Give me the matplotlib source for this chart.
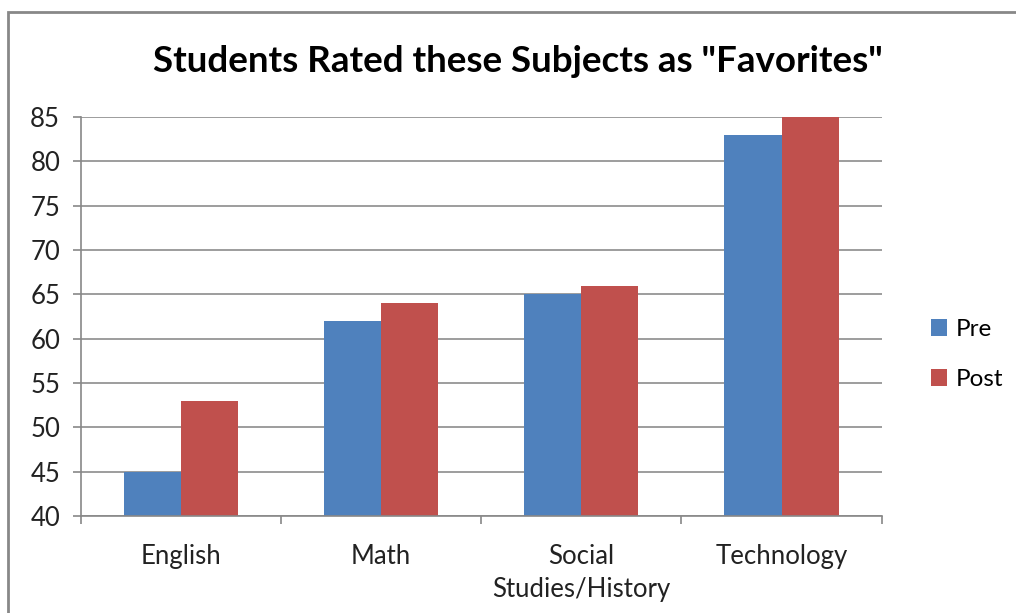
import numpy as np
import matplotlib.pyplot as plt
from matplotlib.patches import Rectangle

subjects = ['English', 'Math', 'Social\nStudies/History', 'Technology']
pre = [45, 62, 65, 83]
post = [53, 64, 66, 85]

plt.rcParams['font.family'] = ['Lato', 'DejaVu Sans']

fig = plt.figure(figsize=(10.16, 6.13), dpi=100)
ax = fig.add_axes([0.0797, 0.158, 0.788, 0.651])

x = np.arange(len(subjects))
w = 0.285
ax.bar(x - w / 2, pre, w, color='#4F81BD', label='Pre', zorder=2)
ax.bar(x + w / 2, post, w, color='#C0504D', label='Post', zorder=2)

ax.set_ylim(40, 85)
ax.set_yticks(range(40, 90, 5))
ax.set_xlim(-0.5, 3.5)
ax.set_xticks(x)
ax.set_xticklabels(subjects, fontsize=18.5, color='#222222', linespacing=1.4)
ax.set_xticks(np.arange(-0.5, 4.0, 1), minor=True)
ax.tick_params(axis='x', which='major', length=0, pad=20)
ax.tick_params(axis='x', which='minor', length=6, color='#888888', width=1.2)
ax.tick_params(axis='y', labelsize=18.5, labelcolor='#222222', length=6,
               color='#888888', width=1.2, pad=9)
ax.grid(axis='y', color='#8c8c8c', linewidth=1.2, zorder=0)
for s in ['top', 'right']:
    ax.spines[s].set_visible(False)
for s in ['left', 'bottom']:
    ax.spines[s].set_color('#888888')
    ax.spines[s].set_linewidth(1.2)

fig.text(0.51, 0.9, 'Students Rated these Subjects as "Favorites"',
         ha='center', va='center', fontsize=26.5, fontweight='bold')

ax.legend(loc='center left', bbox_to_anchor=(1.035, 0.405), frameon=False,
          fontsize=17.5, handlelength=0.65, handleheight=0.65, handletextpad=0.35,
          labelspacing=1.2)

fig.patches.append(Rectangle((8 / 1016, -0.1), 2.0, (613 - 12) / 613 + 0.1,
                             transform=fig.transFigure, fill=False,
                             edgecolor='#888888', linewidth=2))

fig.savefig('out.png', dpi=100)
